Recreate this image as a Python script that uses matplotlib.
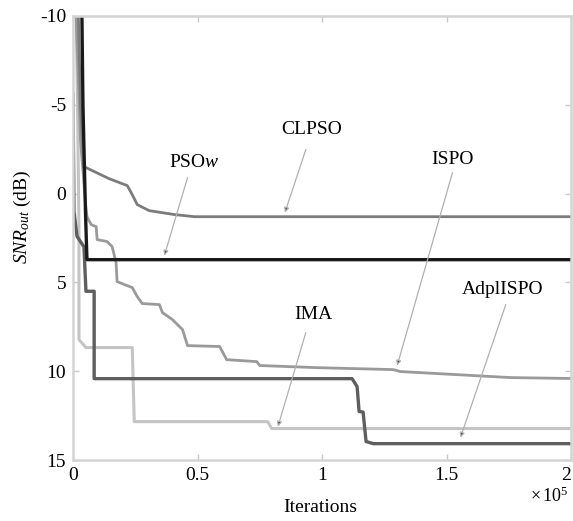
import matplotlib
matplotlib.use('Agg')
import matplotlib.pyplot as plt

# ── Data (x in units of 1e5 iterations, y in dB) ─────────────────────────────

clpso_x = [0.020, 0.030, 0.044, 0.145, 0.218, 0.238, 0.258, 0.306, 0.407, 0.488, 2.0]
clpso_y = [-11.0, -5.0, -1.52, -0.84, -0.45, 0.06, 0.62, 0.96, 1.18, 1.30, 1.30]

ispo_x = [0.010, 0.030, 0.050, 0.056, 0.073, 0.093, 0.097, 0.137, 0.157, 0.173,
          0.177, 0.206, 0.238, 0.258, 0.278, 0.347, 0.359, 0.399, 0.440, 0.460,
          0.589, 0.617, 0.738, 0.750, 0.980, 1.286, 1.315, 1.758, 2.0]
ispo_y = [-11.0, -3.0, 0.5, 1.30, 1.75, 1.86, 2.59, 2.70, 2.98, 3.88,
          4.95, 5.12, 5.29, 5.80, 6.19, 6.25, 6.70, 7.09, 7.66, 8.56,
          8.61, 9.35, 9.46, 9.68, 9.80, 9.91, 10.02, 10.36, 10.41]

psow_x = [0.035, 0.040, 0.050, 0.056, 2.0]
psow_y = [-11.0, -5.0, 1.0, 3.72, 3.72]

ima_x = [0.012, 0.020, 0.024, 0.024, 0.052, 0.238, 0.246, 0.782, 0.798, 2.0]
ima_y = [-11.0, -3.0, 2.0, 8.22, 8.67, 8.67, 12.84, 12.84, 13.23, 13.23]

adp_x = [0.0, 0.004, 0.016, 0.044, 0.052, 0.085, 0.085, 1.121, 1.141, 1.149,
         1.165, 1.177, 1.206, 2.0]
adp_y = [-5.6, 1.0, 2.4, 3.0, 5.5, 5.5, 10.42, 10.42, 10.87, 12.27,
         12.30, 13.96, 14.08, 14.08]

# label text position, arrow tail, arrow head
labels = ['CLPSO', 'PSO$\\mathit{w}$', 'ISPO', 'IMA', 'AdplISPO']
label_xy = [(0.96, -3.6), (0.488, -1.75), (1.524, -1.91), (0.964, 6.81), (1.726, 5.41)]
tail_xy = [(0.935, -2.48), (0.46, -0.9), (1.524, -1.18), (0.935, 7.83), (1.738, 6.25)]
head_xy = [(0.851, 1.07), (0.367, 3.49), (1.302, 9.68), (0.823, 13.12), (1.556, 13.74)]

xticks = [0, 0.5, 1, 1.5, 2]
xticklabels = ['0', '0.5', '1', '1.5', '2']
yticks = [-10, -5, 0, 5, 10, 15]

# ── Plot ─────────────────────────────────────────────────────────────────────

plt.rcParams['font.family'] = ['Liberation Serif', 'DejaVu Serif']
plt.rcParams['mathtext.fontset'] = 'custom'
plt.rcParams['mathtext.rm'] = 'Liberation Serif'
plt.rcParams['mathtext.it'] = 'Liberation Serif:italic'
plt.rcParams['axes.unicode_minus'] = False

fig = plt.figure(figsize=(5.73, 5.21), dpi=100)
ax = fig.add_axes([73 / 573, 61 / 521, 498 / 573, 444 / 521])

ax.plot(ima_x, ima_y, color='#c4c4c4', lw=2.2)
ax.plot(ispo_x, ispo_y, color='#9a9a9a', lw=2.0)
ax.plot(clpso_x, clpso_y, color='#7c7c7c', lw=2.0)
ax.plot(adp_x, adp_y, color='#5e5e5e', lw=2.4)
ax.plot(psow_x, psow_y, color='#1a1a1a', lw=2.4)

for txt, lxy, txy, hxy in zip(labels, label_xy, tail_xy, head_xy):
    ax.text(lxy[0], lxy[1], txt, ha='center', va='center', fontsize=14)
    ax.annotate('', xy=hxy, xytext=txy,
                arrowprops=dict(arrowstyle='-|>', ec='#b0b0b0', fc='#333333',
                                lw=0.9, mutation_scale=7, shrinkA=0, shrinkB=0))

ax.set_xlim(0, 2)
ax.set_ylim(15, -10)
ax.set_xticks(xticks)
ax.set_xticklabels(xticklabels)
ax.set_yticks(yticks)
ax.tick_params(direction='in', length=4, width=1, color='#c8c8c8',
               top=True, right=True, labelsize=14, pad=5)
ax.get_xticklabels()[-1].set_ha('right')
for sp in ax.spines.values():
    sp.set_color('#d4d4d4')
    sp.set_linewidth(1.8)

fig.text(22 / 573, 1 - 217 / 521, '$SNR_{out}$ (dB)', rotation=90,
         ha='center', va='center', fontsize=14)
fig.text(320 / 573, 1 - 507 / 521, 'Iterations', ha='center', va='center', fontsize=14)
fig.text(530 / 573, 1 - 496 / 521, '$\\times\\,10^{5}$', ha='left', va='center', fontsize=13)

fig.savefig('out.png', dpi=100)
